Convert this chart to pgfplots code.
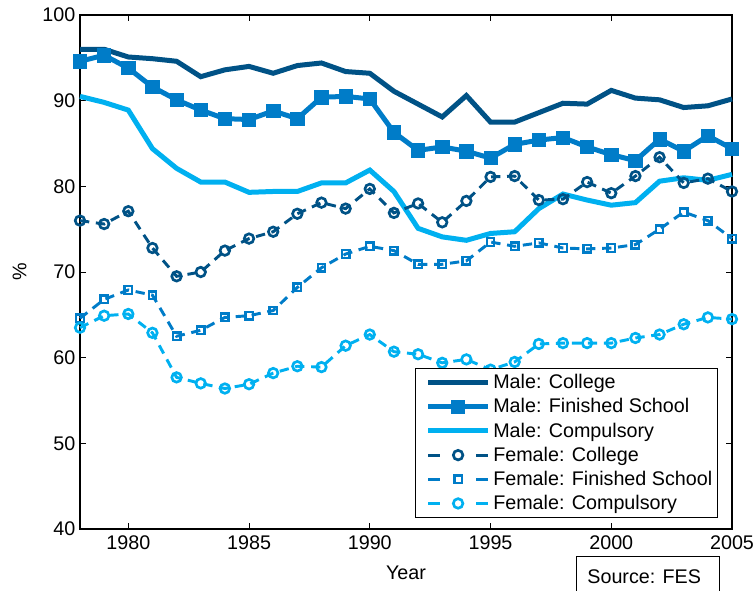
\documentclass[border=0pt]{standalone}
\usepackage{fontspec}
\setmainfont{Liberation Sans}
\usepackage{pgfplots}
\pgfplotsset{compat=1.18}
\usepackage{pgfplotstable}

\definecolor{cdark}{RGB}{0,82,134}
\definecolor{cmid}{RGB}{0,124,200}
\definecolor{clight}{RGB}{0,176,240}

% participation rates (%), FES
\pgfplotstableread{
year mcol mfin mcom fcol ffin fcom
1978 96.0 94.6 90.5 76.0 64.6 63.5
1979 96.0 95.3 89.8 75.6 66.8 64.9
1980 95.1 93.8 88.9 77.1 67.9 65.1
1981 94.9 91.6 84.4 72.8 67.3 62.9
1982 94.6 90.1 82.1 69.5 62.5 57.7
1983 92.8 88.9 80.5 70.0 63.2 57.0
1984 93.6 87.9 80.5 72.5 64.7 56.4
1985 94.0 87.8 79.3 73.9 64.9 56.9
1986 93.2 88.8 79.4 74.7 65.5 58.2
1987 94.1 87.9 79.4 76.8 68.2 59.0
1988 94.4 90.4 80.4 78.1 70.5 58.9
1989 93.4 90.5 80.4 77.4 72.1 61.4
1990 93.2 90.2 81.9 79.7 73.0 62.7
1991 91.1 86.3 79.4 76.9 72.5 60.7
1992 89.6 84.2 75.1 78.0 70.9 60.4
1993 88.1 84.6 74.1 75.8 70.9 59.4
1994 90.6 84.1 73.7 78.3 71.3 59.8
1995 87.5 83.3 74.5 81.1 73.5 58.6
1996 87.5 84.9 74.7 81.2 73.0 59.5
1997 88.6 85.4 77.4 78.4 73.4 61.6
1998 89.7 85.7 79.1 78.5 72.8 61.7
1999 89.6 84.6 78.4 80.5 72.7 61.7
2000 91.2 83.7 77.8 79.2 72.8 61.7
2001 90.3 83.0 78.1 81.2 73.2 62.3
2002 90.1 85.5 80.6 83.4 75.0 62.7
2003 89.2 84.1 81.0 80.4 77.0 63.9
2004 89.4 85.9 80.7 80.9 76.0 64.7
2005 90.2 84.4 81.4 79.4 73.9 64.5
}\fes

\pgfplotsset{
  femleg/.style={legend image code/.code={\path (0pt,0pt);
    \draw[mark repeat=2,mark phase=2,dash pattern=on 9pt off 27pt] plot coordinates {(6pt,0pt) (28.5pt,0pt) (51pt,0pt)};}},
}

\begin{document}
\begin{tikzpicture}
\begin{axis}[
  scale only axis,
  width=489pt, height=385.5pt,
  xmin=1978, xmax=2005, ymin=40, ymax=100,
  xtick={1980,1985,...,2005}, ytick={40,50,...,100},
  tick align=inside, major tick length=4.5pt,
  tick style={black, line width=0.6pt},
  axis line style={line width=0.8pt},
  /pgf/number format/1000 sep={},
  /pgf/number format/assume math mode=true,
  font=\fontsize{14.8}{17}\selectfont,
  tick label style={font=\fontsize{14.8}{17}\selectfont},
  xticklabel style={yshift=-1.5pt},
  xlabel={Year}, ylabel={\%},
  xlabel style={yshift=-5pt},
  ylabel style={yshift=5pt},
  clip=false,
  legend cell align=left,
  legend style={at={(1,0)}, anchor=south east, xshift=-10.5pt, yshift=8.25pt,
    draw=black, line width=0.6pt, fill=white,
    font=\fontsize{14.8}{17}\selectfont, row sep=1.9pt,
    inner xsep=2pt, inner ysep=2.5pt},
  legend image code/.code={\path (0pt,0pt); \draw[mark repeat=2,mark phase=2] plot coordinates {(6pt,0pt) (28.5pt,0pt) (51pt,0pt)};},
]
\addplot[cdark, line width=3.75pt, no marks] table[x=year,y=mcol] {\fes};
\addlegendentry{Male: College}
\addplot[cmid, line width=3.75pt, mark=square*, mark size=5pt, mark options={solid, line width=0.5pt}] table[x=year,y=mfin] {\fes};
\addlegendentry{Male: Finished School}
\addplot[clight, line width=3.75pt, no marks] table[x=year,y=mcom] {\fes};
\addlegendentry{Male: Compulsory}
\addplot[cdark, femleg, line width=2.2pt, dash pattern=on 7pt off 5pt, mark=o, mark size=3.6pt, mark options={solid, line width=2pt}] table[x=year,y=fcol] {\fes};
\addlegendentry{Female: College}
\addplot[cmid, femleg, line width=2.2pt, dash pattern=on 7pt off 5pt, mark=square, mark size=2.8pt, mark options={solid, line width=1.8pt}] table[x=year,y=ffin] {\fes};
\addlegendentry{Female: Finished School}
\addplot[clight, femleg, line width=2.2pt, dash pattern=on 7pt off 5pt, mark=o, mark size=3.6pt, mark options={solid, line width=2pt}] table[x=year,y=fcom] {\fes};
\addlegendentry{Female: Compulsory}
\end{axis}
\draw[line width=0.6pt] (372pt,-60pt) rectangle (479.25pt,-20.8pt);
\node[anchor=base west, font=\fontsize{14.8}{17}\selectfont] at (377pt,-40.5pt) {Source: FES};
\pgfresetboundingbox
\path[use as bounding box] (-60pt,-45.75pt) rectangle (506.25pt,396.75pt);
\end{tikzpicture}
\end{document}
